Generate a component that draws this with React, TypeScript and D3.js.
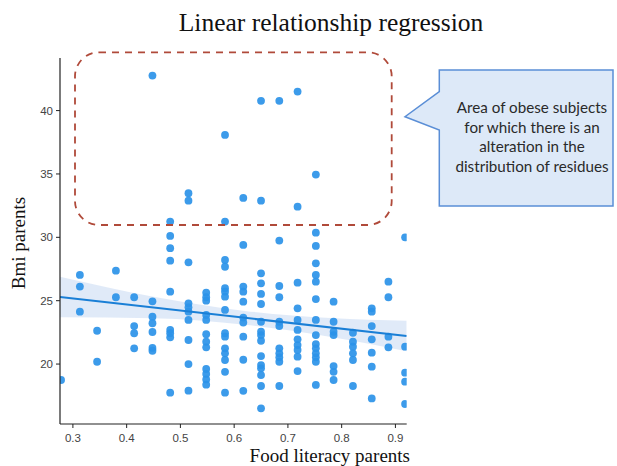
import React from 'react'
import { scaleLinear, line, area, curveMonotoneX } from 'd3'

const width = 617
const height = 466

// plot frame (seaborn style: only left + bottom spines)
const left = 60
const right = 406.7
const top = 58
const bottom = 424

const xTicks = [0.3, 0.4, 0.5, 0.6, 0.7, 0.8, 0.9]
const yTicks = [20, 25, 30, 35, 40]

// food literacy levels (x) and the bmi values found at each level (y)
const literacyLevels = [
  0.278, 0.313, 0.345, 0.38, 0.414, 0.448, 0.481, 0.515, 0.548, 0.583,
  0.617, 0.65, 0.684, 0.718, 0.752, 0.785, 0.821, 0.856, 0.887, 0.918,
]
const bmiByLevel = [
  [18.74],
  [27.03, 26.11, 24.13],
  [22.63, 20.18],
  [27.37, 25.27],
  [25.27, 23.0, 22.43, 21.24],
  [42.76, 24.95, 23.74, 23.22, 22.53, 21.27, 21.05],
  [31.24, 30.11, 29.14, 28.16, 25.71, 22.69, 22.43, 22.11, 17.74],
  [33.48, 32.89, 28.03, 24.79, 24.48, 24.13, 23.48, 21.9, 20.0, 17.9],
  [25.63, 25.27, 25.0, 23.87, 23.48, 22.35, 21.76, 21.32, 19.61, 19.22, 18.79, 18.37],
  [38.08, 31.24, 28.21, 27.68, 25.98, 25.71, 25.32, 24.27, 22.43, 22.16, 21.24, 20.85, 20.32, 19.39, 17.74],
  [33.11, 29.4, 26.11, 25.71, 24.92, 23.67, 23.28, 22.16, 20.34, 17.89],
  [40.77, 32.89, 27.16, 26.37, 25.53, 24.74, 23.34, 22.55, 22.29, 21.84, 20.63, 19.92, 19.66, 19.13, 18.27, 16.51],
  [40.77, 29.74, 26.16, 25.27, 23.34, 23.0, 21.24, 20.85, 20.53, 20.18, 18.27],
  [41.5, 32.42, 26.42, 24.4, 23.48, 22.69, 21.95, 21.5, 21.11, 20.58, 19.45],
  [34.95, 30.37, 29.32, 27.95, 27.03, 26.5, 25.13, 23.48, 22.29, 21.58, 21.24, 20.85, 20.53, 20.18, 18.35],
  [24.92, 23.34, 22.55, 22.29, 19.84, 19.39, 18.74],
  [22.47, 21.76, 21.37, 20.85, 20.32, 18.27],
  [24.4, 24.13, 23.0, 21.95, 20.9, 19.79, 17.29],
  [26.5, 25.27, 22.16, 21.32],
  [30.0, 21.37, 19.32, 18.61, 16.85],
]

// fitted line and its confidence band
const regressionIntercept = 26.61
const regressionSlope = -4.78
const ciX = [0.276, 0.45, 0.62, 0.78, 0.921]
const ciHalfWidth = [1.6, 0.85, 0.55, 0.75, 1.2]

const calloutLines = [
  'Area of obese subjects',
  'for which there is an',
  'alteration in the',
  'distribution of residues',
]

const x = scaleLinear().domain([0.276, 0.921]).range([left, right])
const y = scaleLinear().domain([15.27, 44.15]).range([bottom, top])

const fit = (v: number) => regressionIntercept + regressionSlope * v

const points = literacyLevels.flatMap((lv, i) => bmiByLevel[i].map(b => ({ lv, b })))

const regLine = line<number>()
  .x(d => x(d))
  .y(d => y(fit(d)))

const band = area<number>()
  .x(d => x(ciX[d]))
  .y0(d => y(fit(ciX[d]) - ciHalfWidth[d]))
  .y1(d => y(fit(ciX[d]) + ciHalfWidth[d]))
  .curve(curveMonotoneX)

// dashed highlight box around the obese region
const boxX0 = 75, boxX1 = 391.7, boxY0 = 52.3, boxY1 = 225

// callout box
const cL = 439.3, cR = 613, cT = 70, cB = 206
const calloutPath = `M${cL},${cT} L${cR},${cT} L${cR},${cB} L${cL},${cB} L${cL},130 L405,116.7 L${cL},91.7 Z`

export default function App() {
  return (
    <svg width={width} height={height} style={{ position: 'absolute', left: 0, top: 0, background: '#fff' }}>
      <defs>
        <clipPath id="plot">
          <rect x={left} y={top - 10} width={right - left} height={bottom - top + 10} />
        </clipPath>
      </defs>

      <text x={331} y={31} textAnchor="middle" fontFamily="Liberation Serif" fontSize={25.5} fill="#111">
        Linear relationship regression
      </text>

      <g clipPath="url(#plot)">
        <path d={band(ciX.map((_, i) => i)) || ''} fill="#dae6f7" opacity={0.85} />
        {points.map((p, i) => (
          <circle key={i} cx={x(p.lv)} cy={y(p.b)} r={3.9} fill="#2b93e8" opacity={0.92} />
        ))}
        <path d={regLine(x.domain()) || ''} stroke="#1a7fd6" strokeWidth={2} fill="none" />
      </g>

      {/* spines */}
      <line x1={left} x2={left} y1={top} y2={bottom} stroke="#222" strokeWidth={1.2} />
      <line x1={left} x2={right} y1={bottom} y2={bottom} stroke="#222" strokeWidth={1.2} />

      {yTicks.map(t => (
        <g key={t} transform={`translate(${left},${y(t)})`}>
          <line x1={-4} x2={0} stroke="#222" />
          <text x={-7} dy="0.35em" textAnchor="end" fontFamily="Liberation Sans" fontSize={11.5} fill="#444">
            {t}
          </text>
        </g>
      ))}
      {xTicks.map(t => (
        <g key={t} transform={`translate(${x(t)},${bottom})`}>
          <line y1={0} y2={4} stroke="#222" />
          <text y={18} textAnchor="middle" fontFamily="Liberation Sans" fontSize={11.5} fill="#444">
            {t.toFixed(1)}
          </text>
        </g>
      ))}

      <text transform="translate(25,243) rotate(-90)" textAnchor="middle" fontFamily="Liberation Serif" fontSize={19} fill="#111">
        Bmi parents
      </text>
      <text x={410} y={462} textAnchor="end" fontFamily="Liberation Serif" fontSize={19} fill="#111">
        Food literacy parents
      </text>

      <rect
        x={boxX0} y={boxY0} width={boxX1 - boxX0} height={boxY1 - boxY0}
        rx={24} ry={24}
        fill="none" stroke="#b04a3a" strokeWidth={1.8} strokeDasharray="7 6"
      />

      <path d={calloutPath} fill="#dde9f8" stroke="#5a8ed6" strokeWidth={1.5} />
      {calloutLines.map((s, i) => (
        <text key={i} x={532} y={113 + i * 19.5} textAnchor="middle" fontFamily="Lato" fontSize={15.2} fill="#2a2a2a">
          {s}
        </text>
      ))}
    </svg>
  )
}
